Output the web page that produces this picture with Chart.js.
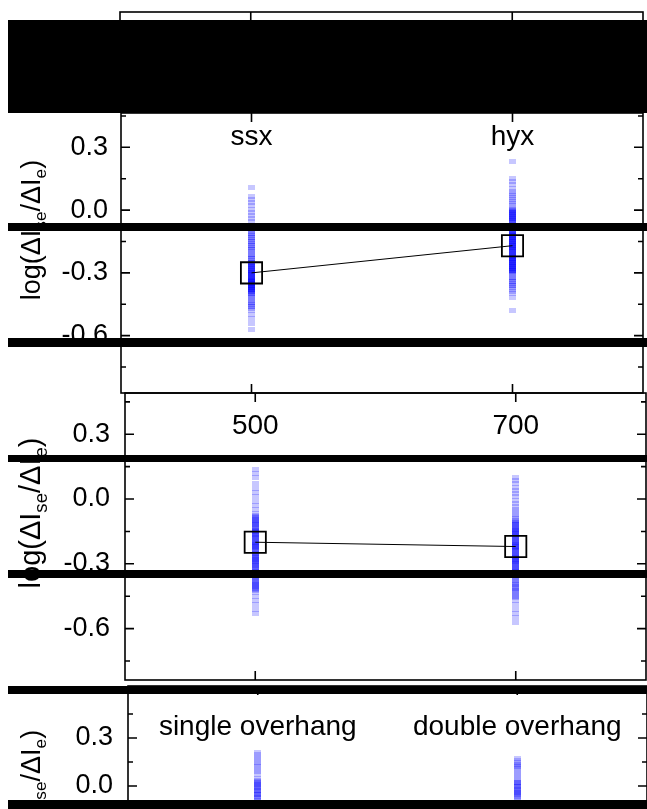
<!DOCTYPE html>
<html>
<head>
<meta charset="utf-8">
<script src="https://cdn.jsdelivr.net/npm/chart.js@4.4.0/dist/chart.umd.min.js"></script>
<style>
    html, body { margin: 0; padding: 0; background: #fff; width: 647px; height: 809px; overflow: hidden; }
    #painel { position: relative; width: 647px; height: 809px; overflow: hidden; }
    #painel canvas { position: absolute; left: 0; }
    .tarja { position: absolute; left: 8px; width: 639px; background: #000; }
</style>
</head>
<body>
<div id="painel">
    <canvas id="grafico0" width="647" height="113" style="top:0px"></canvas>
    <canvas id="grafico1" width="647" height="383" style="top:60px"></canvas>
    <canvas id="grafico2" width="647" height="390" style="top:340px"></canvas>
    <canvas id="grafico3" width="647" height="342" style="top:630px"></canvas>

    <div class="tarja" style="top:20px;height:93px"></div>
    <div class="tarja" style="top:223px;height:8px"></div>
    <div class="tarja" style="top:338px;height:9px"></div>
    <div class="tarja" style="top:455px;height:7px"></div>
    <div class="tarja" style="top:570px;height:8px"></div>
    <div class="tarja" style="top:686px;height:8px"></div>
    <div class="tarja" style="top:800px;height:9px"></div>
</div>

<script>
const FONTE = '"Liberation Sans", Arial, sans-serif';

// categorias de cada painel
const categoriasTipo = ['ssx', 'hyx'];
const categoriasTensao = ['500', '700'];
const categoriasOverhang = ['single overhang', 'double overhang'];

// log(ΔIse/ΔIe) de cada medida, por categoria
const valoresSsx = [0.11, 0.065, 0.05, 0.035, 0.02, 0.005, -0.01, -0.025, -0.04, -0.055,
    -0.08, -0.09, -0.10, -0.11, -0.12, -0.13, -0.14, -0.15, -0.16, -0.17, -0.18, -0.19, -0.20,
    -0.21, -0.22, -0.23, -0.24,
    -0.09, -0.11, -0.13, -0.15, -0.17, -0.19, -0.21, -0.23,
    -0.25, -0.255, -0.26, -0.265, -0.27, -0.275, -0.28, -0.285, -0.29, -0.295, -0.30, -0.305,
    -0.31, -0.315, -0.32, -0.325, -0.33, -0.335, -0.34, -0.345, -0.35, -0.355, -0.36, -0.365,
    -0.37, -0.375, -0.38, -0.385, -0.39, -0.395, -0.40,
    -0.25, -0.26, -0.27, -0.28, -0.29, -0.30, -0.31, -0.32, -0.33, -0.34, -0.35, -0.36, -0.37,
    -0.38, -0.39, -0.40,
    -0.30, -0.31, -0.32, -0.33, -0.34, -0.35, -0.36, -0.37, -0.38,
    -0.41, -0.42, -0.43, -0.44, -0.45, -0.46, -0.47, -0.42, -0.44, -0.46,
    -0.48, -0.50, -0.52, -0.54, -0.57];

const valoresHyx = [0.23, 0.15, 0.135, 0.12, 0.105, 0.09, 0.08, 0.07, 0.06, 0.05, 0.04, 0.03,
    0.02, 0.01, 0.005, 0.0, -0.005, -0.01, -0.015, -0.02, -0.025, -0.03, -0.035, -0.04, -0.045,
    -0.05, -0.055,
    0.0, -0.01, -0.02, -0.03, -0.04, -0.05,
    -0.06, -0.07, -0.08, -0.09, -0.10,
    -0.105, -0.11, -0.115, -0.12, -0.125, -0.13, -0.135, -0.14, -0.145, -0.15, -0.155, -0.16,
    -0.165, -0.17, -0.175, -0.18, -0.185, -0.19, -0.195, -0.20, -0.205, -0.21, -0.215, -0.22,
    -0.225, -0.23, -0.235, -0.24, -0.245, -0.25, -0.255, -0.26, -0.265, -0.27, -0.275, -0.28,
    -0.285, -0.29, -0.295, -0.30,
    -0.10, -0.11, -0.12, -0.13, -0.14, -0.15, -0.16, -0.17, -0.18, -0.19, -0.20, -0.21, -0.22,
    -0.23, -0.24, -0.25, -0.26, -0.27, -0.28, -0.29, -0.30,
    -0.11, -0.13, -0.15, -0.17, -0.19, -0.21, -0.23, -0.25, -0.27, -0.29,
    -0.31, -0.32, -0.33, -0.34, -0.35, -0.36, -0.37, -0.38, -0.39, -0.40,
    -0.32, -0.34, -0.36, -0.42, -0.48];

const valores500 = [0.135, 0.12, 0.10, 0.07, 0.05, 0.03, 0.01, -0.01, -0.03, -0.05, -0.065,
    -0.075, -0.085, -0.095, -0.105, -0.115, -0.125, -0.135, -0.145, -0.155, -0.165, -0.175,
    -0.185, -0.195, -0.205, -0.215, -0.225, -0.235, -0.245, -0.255, -0.265, -0.275, -0.285,
    -0.295, -0.305, -0.315, -0.325, -0.335,
    -0.08, -0.09, -0.10, -0.11, -0.12, -0.13, -0.14, -0.15, -0.16, -0.17, -0.18, -0.19, -0.20,
    -0.21, -0.22, -0.23, -0.24, -0.25, -0.26, -0.27, -0.28, -0.29, -0.30, -0.31, -0.32, -0.33,
    -0.34,
    -0.12, -0.15, -0.18, -0.20, -0.22, -0.25, -0.28, -0.31,
    -0.345, -0.355, -0.365, -0.375, -0.385, -0.395, -0.405, -0.415, -0.425, -0.435,
    -0.35, -0.36, -0.37, -0.38, -0.39, -0.40, -0.41, -0.42,
    -0.45, -0.47, -0.49, -0.51, -0.53];

const valores700 = [0.10, 0.085, 0.07, 0.055, 0.04, 0.025, 0.01, -0.005, -0.02, -0.035, -0.05,
    -0.06, -0.07, -0.08, -0.09, -0.10,
    -0.105, -0.115, -0.125, -0.135, -0.145, -0.155, -0.165, -0.175, -0.185, -0.195, -0.205,
    -0.215, -0.225, -0.235, -0.245, -0.255, -0.265, -0.275, -0.285, -0.295, -0.305, -0.315,
    -0.325, -0.335,
    -0.11, -0.12, -0.13, -0.14, -0.15, -0.16, -0.17, -0.18, -0.19, -0.20, -0.21, -0.22, -0.23,
    -0.24, -0.25, -0.26, -0.27, -0.28, -0.29, -0.30, -0.31, -0.32, -0.33, -0.34,
    -0.12, -0.14, -0.16, -0.18, -0.20, -0.22, -0.24, -0.26, -0.28, -0.30, -0.32,
    -0.345, -0.355, -0.365, -0.375, -0.385, -0.395, -0.405, -0.415, -0.425, -0.435, -0.445,
    -0.455, -0.35, -0.37, -0.39, -0.41, -0.43, -0.45,
    -0.47, -0.49, -0.51, -0.53, -0.55, -0.57];

const valoresSingle = [0.21, 0.195, 0.18, 0.165, 0.15, 0.135, 0.12, 0.105, 0.09, 0.075,
    0.045, 0.035, 0.025, 0.015, 0.005, -0.005, -0.015, -0.025, -0.035, -0.045, -0.055, -0.065,
    -0.075, 0.03, 0.01, -0.01, -0.03, -0.05, -0.07,
    -0.09, -0.11, -0.13, -0.15, -0.17, -0.19, -0.21, -0.23, -0.25, -0.27, -0.30, -0.33, -0.36,
    -0.40, -0.45];

const valoresDouble = [0.175, 0.16, 0.145, 0.135, 0.13, 0.125, 0.11, 0.095, 0.08, 0.065, 0.05,
    0.035, 0.025, 0.015, 0.005, -0.005, -0.015, -0.025, -0.035, -0.045, -0.055, -0.065, -0.075,
    0.02, 0.0, -0.02, -0.04, -0.06,
    -0.09, -0.11, -0.13, -0.15, -0.17, -0.19, -0.21, -0.23, -0.25, -0.28, -0.31, -0.34, -0.38,
    -0.43];

// médias de cada categoria (quadrados ligados pela linha)
const mediasTipo = [-0.30, -0.17];
const mediasTensao = [-0.20, -0.22];
const mediasOverhang = [-0.24, -0.22];

// marcador azul translúcido de cada medida
function criarMarcador() {
    const c = document.createElement('canvas');
    c.width = 7;
    c.height = 5;
    const ctx = c.getContext('2d');
    ctx.fillStyle = 'rgba(0, 0, 255, 0.22)';
    ctx.fillRect(0, 0, 7, 5);
    return c;
}
const marcador = criarMarcador();

// título do eixo y com subscritos: log(ΔIse/ΔIe)
function desenharTitulo(ctx, x, yCentro, tamanho) {
    const partes = [['log(ΔI', false], ['se', true], ['/ΔI', false], ['e', true], [')', false]];
    ctx.save();
    ctx.translate(x, yCentro);
    ctx.rotate(-Math.PI / 2);
    ctx.fillStyle = '#000';
    ctx.textBaseline = 'alphabetic';
    ctx.textAlign = 'left';
    let total = 0;
    partes.forEach(([texto, sub]) => {
        ctx.font = (sub ? tamanho * 0.64 : tamanho) + 'px ' + FONTE;
        total += ctx.measureText(texto).width;
    });
    let pos = -total / 2;
    partes.forEach(([texto, sub]) => {
        ctx.font = (sub ? tamanho * 0.64 : tamanho) + 'px ' + FONTE;
        ctx.fillText(texto, pos, sub ? tamanho * 0.24 : 0);
        pos += ctx.measureText(texto).width;
    });
    ctx.restore();
}

// moldura com ticks para dentro, rótulos das categorias e título
const moldura = {
    id: 'moldura',
    afterDraw(chart, args, opts) {
        const ctx = chart.ctx;
        const area = chart.chartArea;
        const x = chart.scales.x;
        const y = chart.scales.y;

        ctx.save();
        ctx.strokeStyle = '#000';
        ctx.lineWidth = 1.6;
        ctx.strokeRect(area.left, area.top, area.right - area.left, area.bottom - area.top);

        ctx.beginPath();
        // ticks de cima e de baixo nas categorias
        opts.categorias.forEach((c, i) => {
            const px = x.getPixelForValue(i);
            ctx.moveTo(px, area.top);
            ctx.lineTo(px, area.top + 9);
            ctx.moveTo(px, area.bottom);
            ctx.lineTo(px, area.bottom - 9);
        });
        // ticks maiores e menores nos dois lados
        if (opts.ticksY) {
            const maiores = y.ticks.map(t => t.value);
            const menores = [];
            maiores.forEach(v => {
                [v - 0.15, v + 0.15].forEach(m => {
                    if (m > y.min && m < y.max && !menores.some(o => Math.abs(o - m) < 0.01)) menores.push(m);
                });
            });
            maiores.forEach(v => {
                const py = y.getPixelForValue(v);
                ctx.moveTo(area.left, py);
                ctx.lineTo(area.left + 9, py);
                ctx.moveTo(area.right, py);
                ctx.lineTo(area.right - 9, py);
            });
            menores.forEach(v => {
                const py = y.getPixelForValue(v);
                ctx.moveTo(area.left, py);
                ctx.lineTo(area.left + 5, py);
                ctx.moveTo(area.right, py);
                ctx.lineTo(area.right - 5, py);
            });
        }
        ctx.stroke();

        // nomes das categorias dentro do gráfico
        if (opts.rotuloY !== undefined) {
            ctx.fillStyle = '#000';
            ctx.font = opts.fonteRotulo + 'px ' + FONTE;
            ctx.textAlign = 'center';
            ctx.textBaseline = 'alphabetic';
            opts.categorias.forEach((c, i) => {
                ctx.fillText(c, x.getPixelForValue(i), y.getPixelForValue(opts.rotuloY));
            });
        }
        ctx.restore();

        if (opts.titulo) {
            desenharTitulo(ctx, opts.titulo.x, opts.titulo.y, opts.titulo.tamanho);
        }
    }
};

function plotarPainel(id, categorias, listas, medias, eixo) {
    const conjuntos = [{
        data: medias.map((v, i) => ({ x: i, y: v })),
        showLine: true,
        borderColor: '#000',
        borderWidth: 1,
        pointStyle: 'rect',
        pointRadius: 15,
        pointBackgroundColor: 'rgba(0,0,0,0)',
        pointBorderColor: '#000',
        pointBorderWidth: 1.8
    }];
    listas.forEach((lista, i) => {
        conjuntos.push({
            data: lista.map(v => ({ x: i, y: v })),
            pointStyle: marcador,
            pointRadius: 3
        });
    });

    new Chart(document.getElementById(id), {
        type: 'scatter',
        data: { datasets: conjuntos },
        options: {
            responsive: false,
            animation: false,
            events: [],
            layout: { padding: eixo.padding, autoPadding: false },
            plugins: {
                legend: { display: false },
                tooltip: { enabled: false },
                moldura: {
                    categorias: categorias,
                    ticksY: eixo.mostrarY,
                    rotuloY: eixo.rotuloY,
                    fonteRotulo: 28,
                    titulo: eixo.titulo
                }
            },
            scales: {
                x: { type: 'linear', min: -0.5, max: 1.5, display: false },
                y: {
                    min: eixo.min,
                    max: eixo.max,
                    display: eixo.mostrarY,
                    afterFit: (scale) => { scale.width = eixo.esquerda; },
                    grid: { display: false, drawTicks: false },
                    border: { display: false },
                    ticks: {
                        stepSize: 0.3,
                        includeBounds: false,
                        padding: eixo.folga,
                        color: '#000',
                        font: { family: FONTE, size: 27 },
                        // rótulo escondido acima do limite de cada painel
                        callback: (v) => (v > eixo.rotuloMax ? null : v.toFixed(1))
                    }
                }
            }
        },
        plugins: [moldura]
    });
}

// painel de cima, quase todo coberto
plotarPainel('grafico0', categoriasTipo, [], [], {
    min: -0.9, max: 0.5, mostrarY: false, esquerda: 0, rotuloMax: 1,
    padding: { left: 120, right: 4, top: 12, bottom: 1 }
});

plotarPainel('grafico1', categoriasTipo, [valoresSsx, valoresHyx], mediasTipo, {
    min: -0.874, max: 0.464, mostrarY: true, esquerda: 121, folga: 13, rotuloY: 0.31, rotuloMax: 1,
    padding: { left: 0, right: 4, top: 53, bottom: 50 },
    titulo: { x: 40, y: 230 - 60, tamanho: 27 }
});

plotarPainel('grafico2', categoriasTensao, [valores500, valores700], mediasTensao, {
    min: -0.838, max: 0.491, mostrarY: true, esquerda: 125, folga: 15, rotuloY: 0.30, rotuloMax: 1,
    padding: { left: 0, right: 1, top: 53, bottom: 50 },
    titulo: { x: 40, y: 513 - 340, tamanho: 29 }
});

plotarPainel('grafico3', categoriasOverhang, [valoresSingle, valoresDouble], mediasOverhang, {
    min: -0.85, max: 0.625, mostrarY: true, esquerda: 128, folga: 15, rotuloY: 0.32, rotuloMax: 0.45,
    padding: { left: 0, right: 0, top: 56, bottom: 50 },
    titulo: { x: 40, y: 800 - 630, tamanho: 27 }
});
</script>
</body>
</html>
